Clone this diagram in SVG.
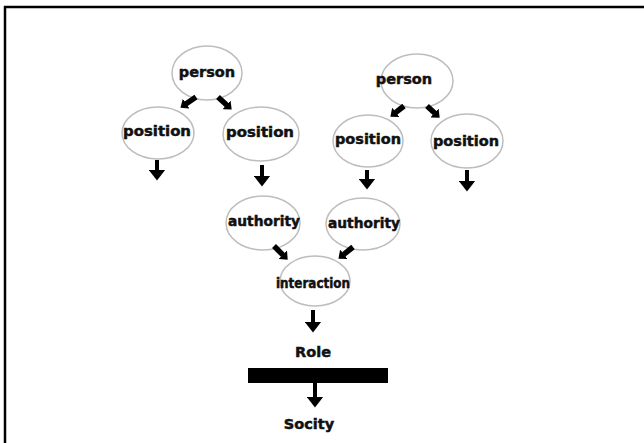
<svg xmlns="http://www.w3.org/2000/svg" width="644" height="443" viewBox="0 0 644 443">
<style>
.node ellipse{fill:#fff;stroke:#bdbdbd;stroke-width:1.5}
.node text,.lbl{font-family:"DejaVu Sans","Liberation Sans",sans-serif;font-weight:bold;font-size:14.5px;fill:#111;stroke:#111;stroke-width:0.5;text-anchor:middle}
.c line{stroke:#000;stroke-width:4}
.c line.d{marker-end:url(#hd)}
.c line.s{stroke-width:5.5;marker-end:url(#hs)}
</style>
<defs>
<marker id="hd" markerUnits="userSpaceOnUse" markerWidth="11" markerHeight="17" viewBox="0 0 11 17" refX="0.5" refY="8.5" orient="auto"><path d="M0,0 L11,8.5 L0,17 z" fill="#000"/></marker>
<marker id="hs" markerUnits="userSpaceOnUse" markerWidth="7" markerHeight="12" viewBox="0 0 7 12" refX="0.5" refY="6" orient="auto"><path d="M0,0 L7,6 L0,12 z" fill="#000"/></marker>
</defs>
<rect width="644" height="443" fill="#fff"/>
<g id="frame"><line x1="4" y1="7" x2="644" y2="7" stroke="#000" stroke-width="2.5"/><line x1="5" y1="6" x2="5" y2="443" stroke="#000" stroke-width="2.5"/></g>
<g id="personL" class="node"><ellipse cx="207" cy="73" rx="35" ry="27"/><text x="207" y="77">person</text></g>
<g id="posLL" class="node"><ellipse cx="158" cy="133" rx="36" ry="26"/><text x="157" y="136" textLength="68" lengthAdjust="spacingAndGlyphs">position</text></g>
<g id="posLR" class="node"><ellipse cx="261" cy="134" rx="38" ry="27"/><text x="260" y="137" textLength="68" lengthAdjust="spacingAndGlyphs">position</text></g>
<g id="personR" class="node"><ellipse cx="417" cy="81" rx="36" ry="27"/><text x="404" y="84">person</text></g>
<g id="posRL" class="node"><ellipse cx="368" cy="141" rx="35" ry="26"/><text x="368" y="144" textLength="66" lengthAdjust="spacingAndGlyphs">position</text></g>
<g id="posRR" class="node"><ellipse cx="467" cy="141" rx="36" ry="27"/><text x="466" y="146" textLength="66" lengthAdjust="spacingAndGlyphs">position</text></g>
<g id="authL" class="node"><ellipse cx="263" cy="223" rx="37" ry="27"/><text x="264" y="226" textLength="72" lengthAdjust="spacingAndGlyphs">authority</text></g>
<g id="authR" class="node"><ellipse cx="363" cy="224" rx="37" ry="26"/><text x="364" y="228" textLength="72" lengthAdjust="spacingAndGlyphs">authority</text></g>
<g id="interaction" class="node"><ellipse cx="315" cy="281" rx="35" ry="25"/><text x="313" y="288" textLength="74" lengthAdjust="spacingAndGlyphs">interaction</text></g>
<g id="role"><text class="lbl" x="313" y="357">Role</text><rect x="248" y="368" width="140" height="15" fill="#000"/></g>
<g id="society"><text class="lbl" x="309" y="429">Socity</text></g>
<g id="connectors" class="c">
<line class="s" x1="196" y1="97" x2="185.8" y2="104"/>
<line class="s" x1="218" y1="97" x2="226.9" y2="105.2"/>
<line class="s" x1="404" y1="106" x2="395.5" y2="112.7"/>
<line class="s" x1="427" y1="106" x2="434.9" y2="113.3"/>
<line class="s" x1="274" y1="246" x2="283.1" y2="255.1"/>
<line class="s" x1="353" y1="247" x2="343.5" y2="254.6"/>
<line class="d" x1="157" y1="160" x2="157" y2="170"/>
<line class="d" x1="262" y1="165" x2="262" y2="176"/>
<line class="d" x1="367" y1="170" x2="367" y2="179"/>
<line class="d" x1="467" y1="170" x2="467" y2="181"/>
<line class="d" x1="313" y1="310" x2="313" y2="322"/>
<line class="d" x1="315" y1="383" x2="315" y2="397"/>
</g>
</svg>
